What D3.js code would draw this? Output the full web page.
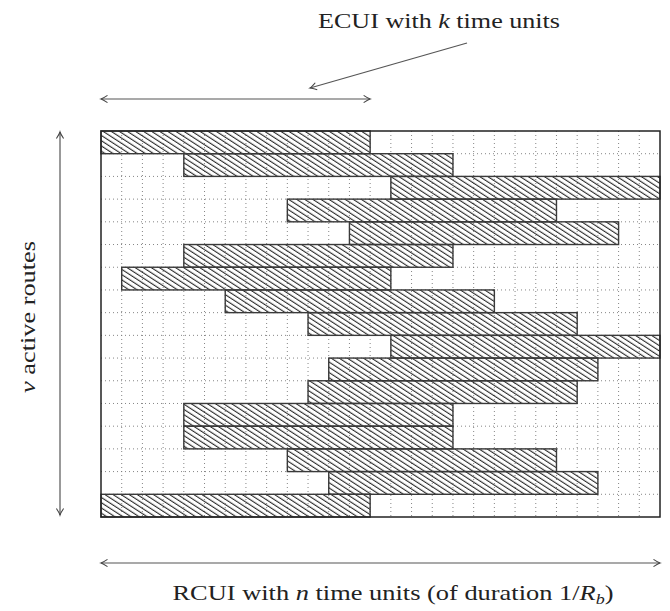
<!DOCTYPE html>
<html>
<head>
<meta charset="utf-8">
<script src="https://cdn.jsdelivr.net/npm/d3@7"></script>
<style>
  html, body { margin: 0; padding: 0; background: #fff; }
  svg { display: block; }
  text { font-family: "Liberation Serif", "DejaVu Serif", serif; fill: #222; }
</style>
</head>
<body>
<svg id="chart" width="670" height="611"></svg>
<script>
// RCUI length (time units), ECUI length, and number of active routes
const nUnits = 27;
const kUnits = 13;
const routes = d3.range(17);
// starting time unit of each route's ECUI window, top route first
const starts = [0, 4, 14, 9, 12, 4, 1, 6, 10, 14, 11, 10, 4, 4, 9, 11, 0];

const svg = d3.select("#chart");
const frameL = 101, frameR = 660, frameT = 131, frameB = 517;

const x = d3.scaleLinear().domain([0, nUnits]).range([frameL, frameR]);
const y = d3.scaleLinear().domain([0, routes.length]).range([frameT, frameB]);

const defs = svg.append("defs");

// diagonal hatching for the busy windows
const pat = defs.append("pattern")
  .attr("id", "hatch")
  .attr("patternUnits", "userSpaceOnUse")
  .attr("width", 10).attr("height", 4.4)
  .attr("patternTransform", "rotate(33)");
pat.append("line")
  .attr("x1", -1).attr("x2", 11).attr("y1", 1.2).attr("y2", 1.2)
  .attr("stroke", "#2a2a2a").attr("stroke-width", 1.1);

// LaTeX-style open arrow tip
function marker(id, orient) {
  defs.append("marker")
    .attr("id", id)
    .attr("viewBox", "-8 -5 10 10")
    .attr("refX", 0).attr("refY", 0)
    .attr("markerWidth", 10).attr("markerHeight", 10)
    .attr("markerUnits", "userSpaceOnUse")
    .attr("orient", orient)
    .append("path")
    .attr("d", "M-6.5,-3.6 Q-2,-0.6 0,0 Q-2,0.6 -6.5,3.6")
    .attr("fill", "none").attr("stroke", "#444").attr("stroke-width", 1.1);
}
marker("tipEnd", "auto");
marker("tipStart", "auto-start-reverse");

// dotted time-unit grid
const grid = svg.append("g").attr("stroke", "#777").attr("stroke-width", 0.9)
  .attr("stroke-dasharray", "1,3");
grid.selectAll("line.v").data(d3.range(1, nUnits)).join("line")
  .attr("class", "v")
  .attr("x1", d => x(d)).attr("x2", d => x(d))
  .attr("y1", frameT).attr("y2", frameB);
grid.selectAll("line.h").data(d3.range(1, routes.length)).join("line")
  .attr("class", "h")
  .attr("x1", frameL).attr("x2", frameR)
  .attr("y1", d => y(d)).attr("y2", d => y(d));

// one ECUI window per route
svg.append("g").selectAll("rect").data(routes).join("rect")
  .attr("x", i => x(starts[i]))
  .attr("y", i => y(i))
  .attr("width", i => x(starts[i] + kUnits) - x(starts[i]))
  .attr("height", i => y(i + 1) - y(i))
  .attr("fill", "url(#hatch)")
  .attr("stroke", "#3a3a3a").attr("stroke-width", 1.4);

// frame
svg.append("rect")
  .attr("x", frameL).attr("y", frameT)
  .attr("width", frameR - frameL).attr("height", frameB - frameT)
  .attr("fill", "none").attr("stroke", "#222").attr("stroke-width", 1.5);

const arrow = (x1, y1, x2, y2, both) => svg.append("line")
  .attr("x1", x1).attr("y1", y1).attr("x2", x2).attr("y2", y2)
  .attr("stroke", "#555").attr("stroke-width", 1.2)
  .attr("marker-end", "url(#tipEnd)")
  .attr("marker-start", both ? "url(#tipStart)" : null);

// ECUI span, routes span, RCUI span
arrow(x(0), 99, x(kUnits), 99, true);
arrow(467, 43, 310, 88, false);
arrow(60, y(0) + 1, 60, y(routes.length) - 2, true);
arrow(x(0), 563, x(nUnits), 563, true);

// labels
const topLbl = svg.append("text")
  .attr("x", 439).attr("y", 28).attr("text-anchor", "middle")
  .attr("font-size", 21).attr("textLength", 242).attr("lengthAdjust", "spacingAndGlyphs");
topLbl.append("tspan").text("ECUI with ");
topLbl.append("tspan").attr("font-style", "italic").text("k");
topLbl.append("tspan").text(" time units");

const bot = svg.append("text")
  .attr("x", 393).attr("y", 600).attr("text-anchor", "middle")
  .attr("font-size", 22).attr("textLength", 441).attr("lengthAdjust", "spacingAndGlyphs");
bot.append("tspan").text("RCUI with ");
bot.append("tspan").attr("font-style", "italic").text("n");
bot.append("tspan").text(" time units (of duration 1/");
bot.append("tspan").attr("font-style", "italic").text("R");
bot.append("tspan").attr("font-style", "italic").attr("font-size", 15).attr("dy", 4).text("b");
bot.append("tspan").attr("dy", -4).text(")");

const side = svg.append("text")
  .attr("transform", "translate(35,317) rotate(-90)")
  .attr("text-anchor", "middle")
  .attr("font-size", 21).attr("textLength", 152).attr("lengthAdjust", "spacingAndGlyphs");
side.append("tspan").attr("font-style", "italic").text("ν");
side.append("tspan").text(" active routes");
</script>
</body>
</html>
